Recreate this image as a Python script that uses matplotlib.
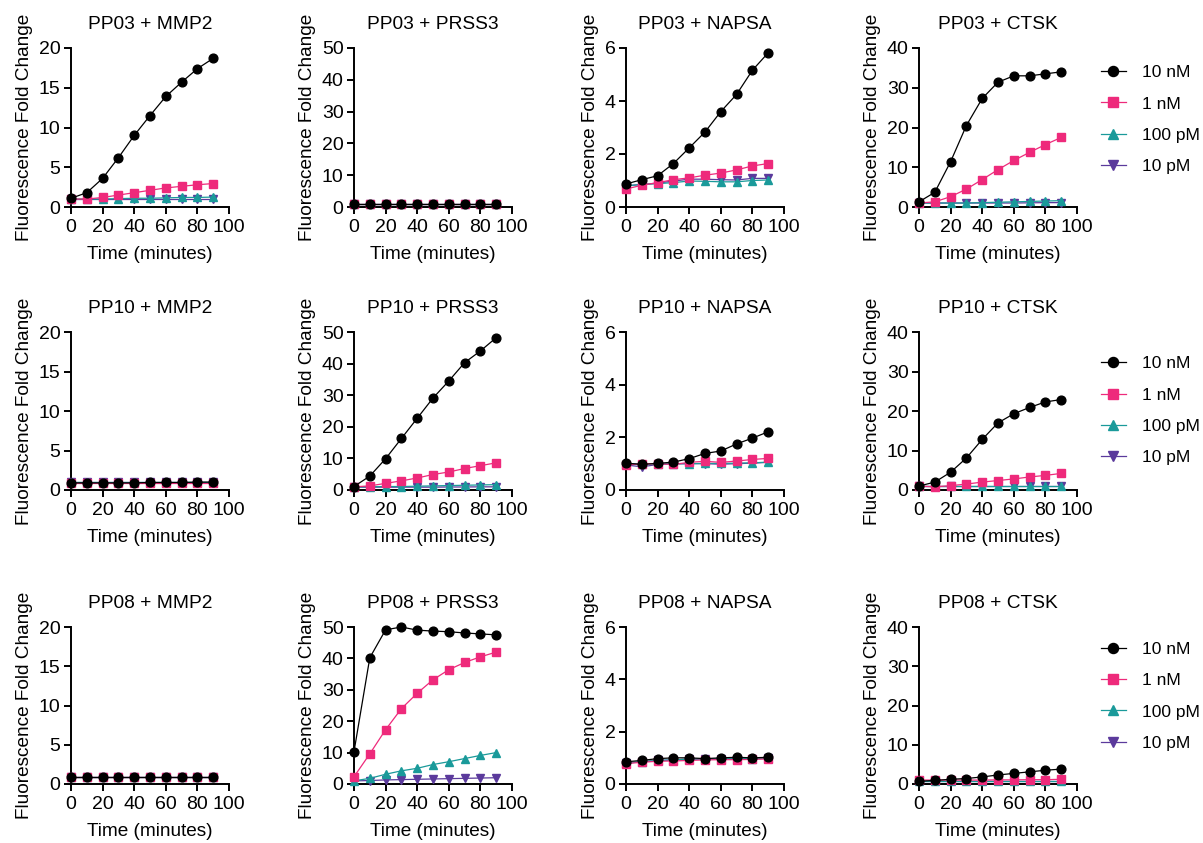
import numpy as np
import matplotlib.pyplot as plt

plt.rcParams['font.family'] = ['Liberation Sans', 'DejaVu Sans']

time = [0, 10, 20, 30, 40, 50, 60, 70, 80, 90]
conc_labels = ['10 nM', '1 nM', '100 pM', '10 pM']
colors = ['#000000', '#EE2A7B', '#1A9A9A', '#5B3A9C']
markers = ['o', 's', '^', 'v']

# fold change values, order: 10 nM, 1 nM, 100 pM, 10 pM
pp03_mmp2 = [
    [1.1, 1.8, 3.6, 6.2, 9.0, 11.5, 13.9, 15.7, 17.4, 18.7],
    [1.0, 1.0, 1.2, 1.5, 1.8, 2.1, 2.4, 2.6, 2.8, 2.95],
    [1.0, 1.0, 1.0, 1.05, 1.1, 1.1, 1.15, 1.2, 1.2, 1.25],
    [1.0, 1.0, 1.0, 1.0, 1.0, 1.0, 1.0, 1.0, 1.0, 1.0],
]
pp03_prss3 = [
    [1.0, 1.0, 1.0, 1.0, 1.0, 1.0, 1.0, 1.0, 1.0, 1.0],
    [1.0, 1.0, 1.0, 1.0, 1.0, 1.0, 1.0, 1.0, 1.0, 1.0],
    [1.0, 1.0, 1.0, 1.0, 1.0, 1.0, 1.0, 1.0, 1.0, 1.0],
    [1.0, 1.0, 1.0, 1.0, 1.0, 1.0, 1.0, 1.0, 1.0, 1.0],
]
pp03_napsa = [
    [0.87, 1.03, 1.18, 1.64, 2.23, 2.83, 3.6, 4.25, 5.16, 5.82],
    [0.68, 0.82, 0.92, 1.03, 1.1, 1.2, 1.28, 1.4, 1.55, 1.64],
    [0.8, 0.85, 0.88, 0.92, 0.98, 0.97, 0.95, 0.95, 1.0, 1.02],
    [0.8, 0.85, 0.9, 0.98, 1.05, 1.05, 1.03, 1.02, 1.08, 1.08],
]
pp03_ctsk = [
    [1.3, 3.7, 11.4, 20.5, 27.3, 31.4, 33.0, 33.0, 33.5, 34.0],
    [1.0, 1.3, 2.6, 4.5, 6.9, 9.4, 11.7, 13.75, 15.7, 17.5],
    [1.0, 1.0, 1.0, 1.0, 1.1, 1.2, 1.3, 1.4, 1.5, 1.6],
    [1.0, 1.0, 1.0, 1.0, 1.0, 1.0, 1.0, 1.05, 1.1, 1.1],
]
pp10_mmp2 = [
    [0.9, 0.9, 0.9, 0.9, 0.9, 0.95, 0.95, 0.95, 1.0, 1.0],
    [0.9, 0.9, 0.9, 0.9, 0.9, 0.9, 0.9, 0.9, 0.9, 0.9],
    [1.0, 1.0, 1.0, 1.0, 1.0, 1.0, 1.0, 1.0, 1.0, 1.0],
    [1.0, 1.0, 1.0, 1.0, 1.0, 1.0, 1.0, 1.0, 1.0, 1.0],
]
pp10_prss3 = [
    [1.1, 4.4, 9.9, 16.3, 22.7, 29.1, 34.5, 40.3, 44.0, 48.2],
    [1.0, 1.3, 2.1, 2.9, 3.8, 4.9, 5.7, 6.8, 7.7, 8.6],
    [1.0, 1.0, 1.1, 1.1, 1.2, 1.3, 1.4, 1.5, 1.6, 1.7],
    [0.9, 0.9, 0.9, 0.9, 0.9, 0.9, 0.95, 0.95, 1.0, 1.0],
]
pp10_napsa = [
    [1.02, 0.97, 1.01, 1.06, 1.19, 1.39, 1.48, 1.75, 1.97, 2.21],
    [0.95, 1.0, 1.0, 0.97, 1.05, 1.09, 1.05, 1.1, 1.16, 1.2],
    [1.0, 1.0, 1.0, 1.0, 1.0, 1.01, 1.01, 1.02, 1.03, 1.06],
    [0.95, 0.88, 0.97, 0.99, 1.0, 1.0, 0.98, 1.0, 1.02, 1.05],
]
pp10_ctsk = [
    [1.0, 2.0, 4.5, 8.1, 12.8, 17.0, 19.3, 20.9, 22.3, 22.9],
    [1.0, 0.8, 1.1, 1.5, 2.0, 2.4, 2.8, 3.3, 3.7, 4.2],
    [0.9, 0.9, 0.9, 0.9, 0.9, 0.9, 0.9, 0.9, 0.9, 0.9],
    [1.0, 1.0, 1.0, 1.0, 1.0, 1.0, 1.0, 1.0, 1.0, 1.0],
]
pp08_mmp2 = [
    [0.9, 0.9, 0.9, 0.9, 0.9, 0.9, 0.9, 0.9, 0.9, 0.9],
    [0.9, 0.9, 0.9, 0.9, 0.9, 0.9, 0.9, 0.9, 0.9, 0.9],
    [0.9, 0.9, 0.9, 0.9, 0.9, 0.9, 0.9, 0.9, 0.9, 0.9],
    [0.9, 0.9, 0.9, 0.9, 0.9, 0.9, 0.9, 0.9, 0.9, 0.9],
]
pp08_prss3 = [
    [10.3, 40.2, 49.1, 50.0, 49.0, 48.7, 48.5, 48.1, 47.8, 47.5],
    [2.3, 9.6, 17.3, 24.0, 28.9, 33.2, 36.4, 38.7, 40.5, 42.0],
    [1.0, 1.8, 3.1, 4.2, 5.0, 6.2, 7.1, 8.1, 9.1, 10.0],
    [1.0, 1.1, 1.3, 1.4, 1.5, 1.6, 1.7, 1.8, 1.9, 2.0],
]
pp08_napsa = [
    [0.85, 0.9, 0.97, 1.0, 1.0, 0.97, 1.0, 1.02, 1.0, 1.02],
    [0.78, 0.83, 0.87, 0.88, 0.9, 0.92, 0.93, 0.93, 0.94, 0.96],
    [0.8, 0.85, 0.9, 0.92, 0.95, 0.95, 0.96, 0.97, 0.97, 0.98],
    [0.8, 0.85, 0.9, 0.92, 0.95, 0.95, 0.96, 0.97, 0.97, 0.98],
]
pp08_ctsk = [
    [0.7, 0.9, 1.2, 1.4, 1.8, 2.3, 2.7, 3.1, 3.5, 3.8],
    [1.0, 1.0, 1.0, 1.0, 1.0, 1.05, 1.05, 1.1, 1.1, 1.2],
    [0.8, 0.8, 0.8, 0.8, 0.8, 0.8, 0.8, 0.8, 0.8, 0.8],
    [0.8, 0.8, 0.8, 0.8, 0.8, 0.8, 0.8, 0.8, 0.8, 0.8],
]

probes = ['PP03', 'PP10', 'PP08']
enzymes = ['MMP2', 'PRSS3', 'NAPSA', 'CTSK']
data = [
    [pp03_mmp2, pp03_prss3, pp03_napsa, pp03_ctsk],
    [pp10_mmp2, pp10_prss3, pp10_napsa, pp10_ctsk],
    [pp08_mmp2, pp08_prss3, pp08_napsa, pp08_ctsk],
]
ymax = [20, 50, 6, 40]
ystep = [5, 10, 2, 10]

W, H = 1203, 843
fig = plt.figure(figsize=(W / 100, H / 100), dpi=100)

col_left = [71, 354, 626, 919]
row_bottom = [207, 490, 784]
row_height = [159, 158, 157]
ax_w = 158
legend_top = [0.935, 0.89, 0.948]

for r in range(3):
    for c in range(4):
        ax = fig.add_axes([col_left[c] / W, 1 - row_bottom[r] / H,
                           ax_w / W, row_height[r] / H])
        series = data[r][c]
        for k in range(3, -1, -1):
            ax.plot(time, series[k], color=colors[k], marker=markers[k],
                    markersize=6.3 if k == 0 else 5.8, linewidth=0.9,
                    label=conc_labels[k], clip_on=False, zorder=3 + (3 - k))
        ax.set_xlim(0, 100)
        ax.set_ylim(0, ymax[c])
        ax.set_xticks(np.arange(0, 101, 20))
        ax.set_yticks(np.arange(0, ymax[c] + 1, ystep[c]))
        for s in ['top', 'right']:
            ax.spines[s].set_visible(False)
        for s in ['left', 'bottom']:
            ax.spines[s].set_linewidth(1.4)
        ax.tick_params(direction='out', length=5, width=1.4, labelsize=14, pad=2.5)
        ax.tick_params(axis='x', pad=3.5)
        ax.set_xlabel('Time (minutes)', fontsize=13.7, labelpad=7)
        ax.set_ylabel('Fluorescence Fold Change', fontsize=13.7, labelpad=4)
        ax.set_title(probes[r] + ' + ' + enzymes[c], fontsize=13.8, pad=14)
        if c == 3:
            h, l = ax.get_legend_handles_labels()
            ax.legend(h[::-1], l[::-1], loc='upper left',
                      bbox_to_anchor=(1.11, legend_top[r]),
                      frameon=False, fontsize=12.5, handlelength=1.4,
                      labelspacing=0.92, handletextpad=0.92, borderaxespad=0,
                      markerscale=1.15)

fig.savefig('out.png', dpi=100)
